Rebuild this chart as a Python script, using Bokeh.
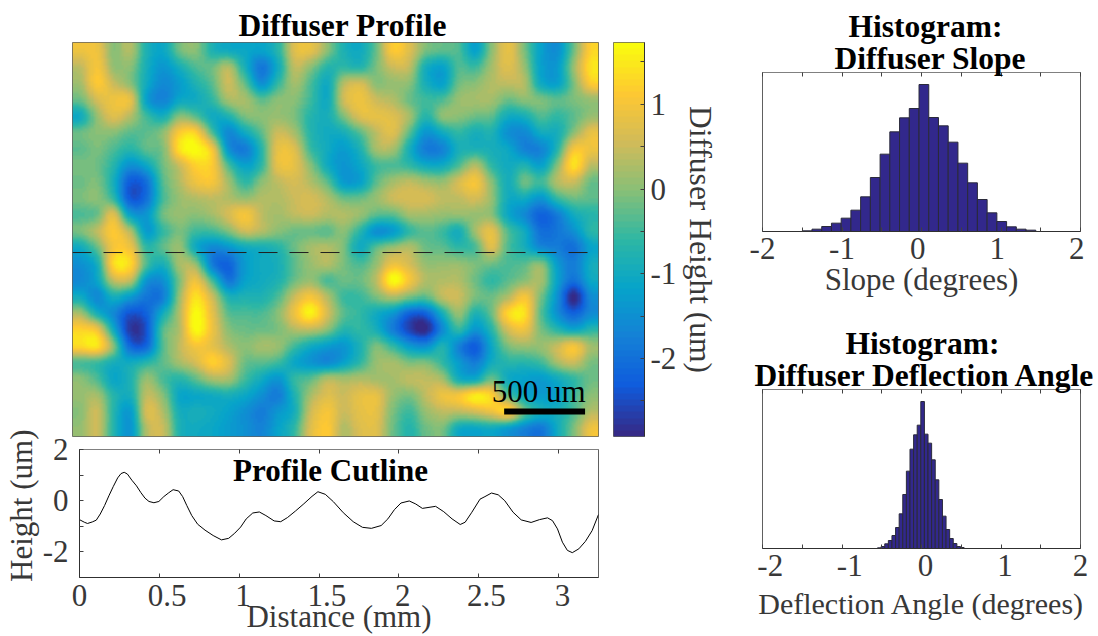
import numpy as np
from bokeh.plotting import figure
from bokeh.layouts import row, column
from bokeh.models import (LinearColorMapper, FixedTicker, LinearAxis, Label, Range1d, Title)
from bokeh.embed import file_html
from bokeh.resources import INLINE

# ---------- data ----------
heights_um = [
 [0.9,0.9,0.0,0.3,-0.8,-1.1,-0.2,0.0,-0.8,-1.0,-1.1,-1.2,-0.7,0.7,0.8,0.0, -0.8,-1.0,-0.2,1.1,0.7,-0.1,-0.3,-0.4,-1.2,0.0,0.8,-0.1,-1.2,-1.5,-0.2,1.2],
 [0.4,1.0,0.1,0.0,-0.9,-1.4,-0.9,-0.4,-0.2,0.3,-0.9,-1.9,-1.0,0.4,0.0,-0.7, -0.6,-0.7,-0.1,0.5,0.4,-0.9,-1.2,-0.4,-0.5,0.2,0.7,0.1,-1.2,-1.3,0.1,1.4],
 [0.2,1.1,0.5,0.0,-1.0,-1.6,-1.3,-0.8,-0.3,0.5,-0.3,-1.5,-0.6,0.2,-0.4,-1.0, 0.3,0.6,0.0,0.1,0.0,-0.9,-1.2,-0.2,0.0,0.3,0.4,0.3,-1.0,-1.2,-0.1,1.1],
 [-0.2,0.6,0.9,0.8,-1.2,-1.7,-1.1,-1.0,-0.6,0.2,0.2,-0.3,0.0,0.0,-0.5,-1.0, 0.5,0.9,0.5,0.3,-0.2,-0.5,-0.4,0.1,0.2,0.2,-0.2,0.0,-0.1,-0.3,-0.1,0.1],
 [-1.0,0.1,0.7,0.3,-0.5,-0.9,0.0,-0.3,-1.0,-0.8,-0.1,0.0,0.1,-0.1,-0.7,-0.9, -0.1,0.7,0.8,0.7,0.2,-0.7,0.0,0.0,-0.2,-0.3,-1.0,-0.9,-0.4,-0.6,-0.3,0.1],
 [-0.2,0.0,0.0,-0.3,-0.3,0.0,1.1,1.2,-0.4,-1.6,-1.0,-0.3,0.5,0.2,-0.7,-1.0, -0.9,-0.3,0.4,0.7,-0.3,-1.4,-1.0,-0.6,-0.9,-0.8,-1.5,-1.6,-1.0,-0.9,0.0,0.8],
 [-0.3,-0.1,-0.4,-0.7,-0.3,-0.1,1.4,1.7,1.0,-1.4,-1.8,-0.7,0.8,0.7,-0.5,-1.0, -1.3,-0.8,0.2,0.2,-0.9,-1.8,-1.7,-0.9,-0.8,-0.9,-1.1,-1.7,-1.7,-0.7,1.0,0.9],
 [-0.1,-0.2,-0.7,-1.5,-1.1,-0.2,0.5,1.2,1.1,-0.4,-1.2,-0.6,0.8,0.8,0.0,-1.0, -1.4,-1.1,-0.5,-0.4,-0.6,-1.0,-1.0,-0.4,0.3,-0.6,-1.0,-0.8,-1.2,0.0,1.4,0.4],
 [-0.2,-0.1,-0.9,-2.3,-2.0,-0.4,0.3,0.9,1.0,0.2,-0.6,0.0,0.4,0.6,0.3,-0.3, -1.3,-1.2,-0.3,0.2,0.4,0.2,0.1,0.6,1.0,0.0,-0.9,-0.2,-0.5,0.3,0.5,-0.2],
 [-0.1,0.0,-0.6,-2.3,-2.0,-0.5,0.1,0.3,0.4,0.3,0.1,0.3,0.3,0.5,0.6,0.3, -0.2,-0.2,0.1,0.5,0.6,0.6,0.4,0.4,0.6,0.1,-1.0,-1.0,-1.4,-0.6,-0.2,-0.3],
 [-0.4,-0.2,0.7,-1.2,-1.4,-0.2,0.1,0.0,0.2,0.6,1.0,0.4,0.2,0.4,0.5,0.3, 0.3,0.1,-0.3,-0.3,0.2,0.2,0.1,0.1,0.1,0.0,-1.1,-1.6,-2.2,-1.8,-1.0,-0.7],
 [-0.1,0.4,1.1,0.3,-1.3,-0.6,-0.1,-0.5,-0.5,-0.1,0.5,0.3,0.0,-0.2,-0.2,-0.3, 0.0,-0.7,-1.5,-1.3,-0.6,-0.3,-0.5,-0.9,0.2,0.8,-0.4,-1.0,-2.0,-1.9,-1.5,-0.7],
 [-1.0,-0.2,1.0,0.9,-0.6,-0.3,0.1,-1.0,-1.6,-1.4,-1.0,-0.9,-0.7,-0.2,0.2,0.3, -0.1,-1.0,-0.3,0.1,0.3,-0.2,-0.3,-0.6,-0.4,0.7,-0.4,-0.9,-1.6,-1.8,-2.0,-1.2],
 [-1.5,-0.9,1.3,1.3,-0.4,-0.9,0.2,0.1,-1.8,-2.2,-1.3,-1.0,-0.9,-0.3,0.1,0.3, -0.1,-0.4,0.1,0.9,0.6,0.1,0.1,0.1,-0.1,-0.2,-0.4,-0.3,0.0,-1.3,-1.8,-1.0],
 [-1.6,-1.1,0.4,0.4,-1.4,-1.5,-0.1,0.9,-0.5,-1.9,-1.2,-1.0,-0.8,-0.2,0.1,-0.4, -0.2,-0.2,0.4,1.7,1.0,0.3,0.3,0.3,-0.2,-0.6,-0.3,0.0,0.2,-1.2,-2.0,-1.1],
 [-1.0,-1.6,-0.9,-1.3,-1.9,-1.8,0.1,1.4,0.5,-0.8,-0.8,-0.8,-0.4,0.5,1.0,0.3, -0.5,-0.5,-0.1,0.3,-0.1,-0.3,0.4,0.5,-0.1,-0.2,0.3,1.0,-0.1,-1.5,-2.9,-1.6],
 [0.2,-0.9,-1.6,-2.4,-2.2,-1.0,0.3,1.7,0.8,-0.3,-0.4,-0.4,0.0,0.9,1.6,0.6, -0.3,-0.6,-1.0,-1.4,-2.2,-2.2,-0.9,0.1,-0.8,-0.2,1.3,1.4,-0.3,-1.5,-2.2,-1.6],
 [1.2,0.9,-1.0,-2.7,-2.4,-0.4,0.3,1.7,0.9,0.0,-0.2,-0.2,-0.1,0.3,0.4,0.0, -0.7,-0.6,-0.9,-1.8,-2.6,-2.9,-1.6,-0.6,-1.4,-0.7,0.6,0.9,-0.1,-0.7,-1.1,-0.7],
 [1.3,1.4,0.0,-2.1,-2.1,-0.4,0.4,1.0,0.8,0.3,0.0,0.2,0.1,-0.5,-1.0,-1.3, -1.4,-0.8,-0.1,-0.6,-1.3,-1.5,-0.8,-1.7,-2.3,-1.1,-0.1,0.1,0.1,0.5,1.0,0.2],
 [-0.4,-0.5,-0.9,-1.0,-0.7,-0.3,0.2,0.6,1.2,0.7,-0.2,-0.3,-0.5,-1.1,-1.4,-1.6, -1.2,-0.6,0.1,0.2,-0.1,-0.1,-0.6,-1.3,-1.8,-1.0,-0.7,-0.7,-0.5,0.2,0.5,-0.1],
 [0.0,-0.4,-1.1,-0.8,0.1,-0.4,-0.7,-0.3,0.2,0.2,-0.5,-1.0,-1.4,-0.6,-0.3,0.3, 0.2,0.3,0.2,0.2,0.4,0.4,0.2,-0.9,-1.0,-0.2,-1.0,-1.2,-1.3,-1.0,-0.6,-0.2],
 [0.1,0.2,-0.7,-0.9,0.4,0.0,-1.1,-1.1,-1.0,-0.9,-1.1,-1.5,-1.8,-0.8,0.2,0.7, 0.5,0.8,0.8,0.1,-0.1,0.4,0.9,1.0,1.5,1.2,-0.3,-1.1,-1.3,-1.2,-0.5,0.0],
 [0.0,0.5,-0.7,-1.3,0.6,0.3,-0.9,-0.9,-1.0,-1.2,-1.5,-1.8,-1.4,-0.9,0.5,1.0, 0.5,0.8,0.8,-0.1,-0.5,0.1,0.4,0.4,0.6,0.9,1.2,-0.2,-0.9,-0.9,-0.4,0.3],
 [0.1,0.5,-0.7,-1.4,0.3,0.5,-0.8,-1.0,-1.1,-1.3,-1.5,-1.7,-1.2,-0.6,0.7,1.1, 0.3,0.7,0.7,-0.2,-0.7,-0.2,-0.1,-1.0,-1.1,-1.0,-1.3,-1.7,-1.9,-1.0,-0.1,0.9],
]

cut_x_mm = [0.00,0.03,0.05,0.08,0.105,0.13,0.157,0.184,0.212,0.239,0.26,0.28,0.30,0.328,0.357,0.384,0.41,0.435,0.466,0.497,0.528,0.559,0.586,0.621,0.646,0.672,0.703,0.74,0.786,0.837,0.889,0.934,0.972,1.009,1.044,1.085,1.126,1.167,1.219,1.26,1.302,1.353,1.405,1.456,1.493,1.539,1.59,1.652,1.714,1.772,1.828,1.889,1.931,1.972,2.013,2.065,2.106,2.147,2.23,2.281,2.333,2.384,2.415,2.457,2.508,2.539,2.58,2.622,2.663,2.715,2.766,2.828,2.88,2.931,2.962,2.993,3.024,3.055,3.086,3.127,3.168,3.21,3.25]
cut_h_um = [-0.74,-0.84,-0.89,-0.83,-0.76,-0.52,-0.19,0.19,0.56,0.89,1.06,1.11,1.04,0.80,0.58,0.32,0.10,-0.03,-0.08,-0.03,0.16,0.31,0.43,0.38,0.16,-0.19,-0.58,-0.92,-1.15,-1.36,-1.53,-1.47,-1.27,-1.03,-0.71,-0.48,-0.44,-0.58,-0.79,-0.82,-0.66,-0.40,-0.12,0.17,0.35,0.25,-0.04,-0.47,-0.82,-1.04,-1.08,-0.97,-0.71,-0.35,-0.09,-0.01,-0.13,-0.30,-0.22,-0.43,-0.71,-0.93,-0.84,-0.45,0.06,0.16,0.30,0.23,0.0,-0.45,-0.75,-0.85,-0.74,-0.67,-0.78,-1.10,-1.62,-1.94,-2.03,-1.88,-1.59,-1.17,-0.54]

slope_start = -1.5
slope_width = 0.1224
slope_counts = [2,7,15,25,40,64,104,162,232,299,341,369,441,342,317,268,205,146,96,56,30,14,7,4]

angle_start = -0.553
angle_width = 0.04536
angle_counts = [2,6,14,24,39,63,104,162,232,298,341,370,441,343,316,266,206,147,97,57,30,15,6,3]

int_ticks = [-2,-1,0,1,2]
half_ticks = [-1.5,-0.5,0.5,1.5]
dist_ticks = [0,0.5,1,1.5,2,2.5,3]
cb_ticks = [-2,-1,0,1]
cb_minor = [-2.5,-1.5,-0.5,0.5,1.5]

# ---------- style ----------
SERIF = "Liberation Serif"
FS = "31px"
TICKC = "#383838"
EDGE = "#404040"
NB = "\u00a0"

stops = np.array([0,0.125,0.25,0.375,0.5,0.625,0.75,0.875,1.0])
rgb = np.array([[53,42,135],[15,92,221],[20,129,214],[6,164,202],[46,183,164],
                [135,191,119],[209,187,89],[254,200,50],[249,251,14]], float)
t = np.linspace(0,1,64)
palette = ["#%02x%02x%02x" % tuple(int(round(np.interp(v, stops, rgb[:,c]))) for c in range(3)) for v in t]
VMIN, VMAX = -2.92, 1.73
mapper = LinearColorMapper(palette=palette, low=VMIN, high=VMAX)

def cubic_axis(a, factor, axis):
    # display resampling only: Catmull-Rom along one axis of the read grid
    a = np.moveaxis(a, axis, 0)
    n = a.shape[0]
    pos = (np.arange(n*factor)+0.5)/factor-0.5
    i = np.floor(pos).astype(int)
    f = (pos-i).reshape((-1,)+(1,)*(a.ndim-1))
    g = lambda k: a[np.clip(k,0,n-1)]
    out = 0.5*(2*g(i)+(g(i+1)-g(i-1))*f+(2*g(i-1)-5*g(i)+4*g(i+1)-g(i+2))*f**2+(3*g(i)-g(i-1)-3*g(i+1)+g(i+2))*f**3)
    return np.moveaxis(out, 0, axis)

def base(w, h, l, r, tp, b, xr, yr):
    p = figure(width=l+w+r, height=tp+h+b, x_range=Range1d(*xr), y_range=Range1d(*yr),
               output_backend="svg", toolbar_location=None, tools="",
               min_border_left=l, min_border_right=r, min_border_top=tp, min_border_bottom=b)
    p.xgrid.visible = False
    p.ygrid.visible = False
    p.outline_line_color = "#606060"
    p.outline_line_width = 1
    p.background_fill_color = "white"
    return p

def style_axis(ax, ticks, minor=None, overrides=None, font=FS):
    ax.ticker = FixedTicker(ticks=ticks, minor_ticks=minor or [])
    ax.major_tick_in = 4
    ax.major_tick_out = 0
    ax.minor_tick_in = 4
    ax.minor_tick_out = 0
    ax.major_tick_line_color = EDGE
    ax.minor_tick_line_color = EDGE
    ax.axis_line_color = "#303030"
    ax.major_label_text_font = SERIF
    ax.major_label_text_font_size = FS
    ax.major_label_text_color = TICKC
    ax.major_label_standoff = 3
    ax.axis_label_text_font = SERIF
    ax.axis_label_text_font_size = font
    ax.axis_label_text_font_style = "normal"
    ax.axis_label_text_color = TICKC
    if overrides:
        ax.major_label_overrides = overrides

def top_axis(p, ticks, minor, standoff=0):
    ax = LinearAxis()
    style_axis(ax, ticks, minor, {v: "" for v in ticks})
    ax.major_label_text_font_size = "1px"
    ax.major_label_standoff = standoff
    ax.axis_line_color = "#808080"
    p.add_layout(ax, "above")

def head(p, text, offset, standoff=0, size="31.5px"):
    p.add_layout(Title(text=text, align="left", offset=offset, standoff=standoff, text_font=SERIF,
                       text_font_size=size, text_font_style="bold", text_color="black"), "above")

# ---------- heat map ----------
H_MM = 2.435
heat = base(526, 394, 72, 2, 42, 1, (0,3.25), (0,H_MM))
heat.xaxis.visible = False
heat.yaxis.visible = False
z = cubic_axis(cubic_axis(np.array(heights_um, float), 8, 0), 8, 1)
heat.image(image=[z[::-1]], x=0, y=0, dw=3.25, dh=H_MM, color_mapper=mapper)
heat.line([0,3.25],[1.137,1.137], line_color="#202020", line_width=1, line_dash="19 12")
heat.line([2.667,3.167],[0.155,0.155], line_color="black", line_width=6)
heat.add_layout(Label(x=2.88, y=0.278, text="500 um", text_font=SERIF, text_font_size=FS,
                      text_color="black", text_align="center", text_baseline="middle"))
head(heat, "Diffuser Profile", 166)

# ---------- colour bar ----------
cb = base(31, 396, 13, 86, 41, 0, (0,1), (VMIN,VMAX))
cb.xaxis.visible = False
cb.yaxis.visible = False
cb.image(image=[np.linspace(VMIN,VMAX,64).reshape(64,1)], x=0, y=VMIN, dw=1, dh=VMAX-VMIN, color_mapper=mapper)
cax = LinearAxis(axis_label="Diffuser Height (um)")
style_axis(cax, cb_ticks, cb_minor, {-2:"-2",-1:"-1",0:"0",1:"1"}, "31.5px")
cax.major_label_standoff = 6
cax.axis_label_standoff = 4
cb.add_layout(cax, "right")

# ---------- cut line ----------
cut = base(525, 128, 73, 2, 20, 59, (0,3.25), (-3,2))
cut.border_fill_color = None
cut.margin = (-8,0,0,0)
cut.line(cut_x_mm, cut_h_um, line_color="black", line_width=1)
cut.xaxis.axis_label = "Distance (mm)"
style_axis(cut.xaxis[0], dist_ticks, None,
           {0:"0",0.5:NB+NB+"0.5",1:NB+"1",1.5:NB*2+"1.5",2:NB+"2",2.5:NB*2+"2.5",3:NB+"3"})
cut.xaxis.major_label_standoff = 0
cut.xaxis.axis_label_standoff = -17
cut.yaxis.axis_label = NB+NB+"Height (um)"
style_axis(cut.yaxis[0], [-2,0,2], [-1,1], {-2:"-2",0:"0",2:"2"})
cut.yaxis.major_label_standoff = 11
cut.yaxis.axis_label_standoff = 1
top_axis(cut, dist_ticks, None)
cut.add_layout(Label(x=1.572, y=1.18, text="Profile Cutline", text_font=SERIF, text_font_size="31px",
                     text_font_style="bold", text_color="black", text_align="center", text_baseline="middle"))

# ---------- histograms ----------
def hist(start, width, counts, l, r, tp, b, label, over, font, label_standoff, top_standoff):
    edges = start + width*np.arange(len(counts)+1)
    p = base(320, 159, l, r, tp, b, (-2,2), (0,477))
    p.quad(left=edges[:-1], right=edges[1:], bottom=0, top=counts,
           fill_color="#32288c", line_color="#2a2a3a", line_width=1)
    p.yaxis.visible = False
    p.xaxis.axis_label = label
    style_axis(p.xaxis[0], int_ticks, half_ticks, over, font)
    p.xaxis.major_label_standoff = -1
    p.xaxis.axis_label_standoff = label_standoff
    top_axis(p, int_ticks, half_ticks, top_standoff)
    return p

h1 = hist(slope_start, slope_width, slope_counts, 32, 16, 72, 90, "Slope (degrees)",
          {-2:"-2",-1:"-1",0:"0"+NB,1:"1"+NB,2:"2"+NB}, "31px", -7, 3)
head(h1, "Diffuser Slope", 72, -7)
head(h1, "Histogram:", 86, -3)
h2 = hist(angle_start, angle_width, angle_counts, 30, 18, 68, 88, "Deflection Angle (degrees)",
          {-2:NB+NB+"-2",-1:NB+NB+"-1",0:NB+"0",1:NB+"1",2:"2"}, "30px", 1, 4)
head(h2, "Diffuser Deflection Angle", -8, -6)
head(h2, "Histogram:", 83, -4)

left = column(row(heat, cb, spacing=0), cut, spacing=0)
right = column(h1, h2, spacing=0)
root = row(left, right, spacing=0)
root.margin = (0,0,0,0)

open("out.html", "w").write(file_html(root, INLINE))
